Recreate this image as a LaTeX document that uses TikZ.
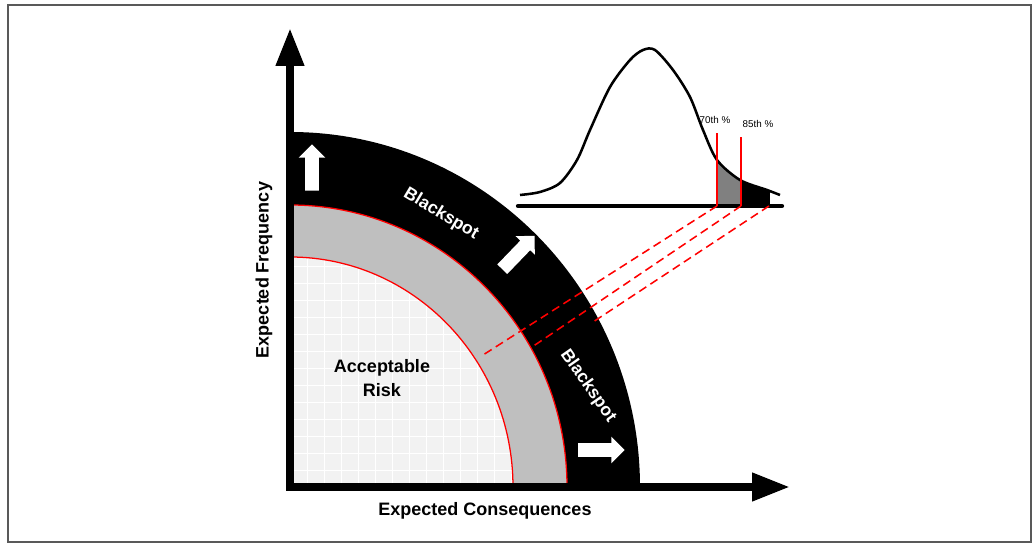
\documentclass[tikz,border=0pt]{standalone}
\usepackage{fontspec}
\setmainfont{Liberation Sans}
\usetikzlibrary{arrows.meta,shapes.arrows}

\begin{document}
\begin{tikzpicture}[x=0.025cm, y=0.025cm,
    axisline/.style = {line width=5.7pt, -{Triangle[length=27pt,width=19pt]}},
    zone/.style = {red, line width=0.9pt},
    link/.style = {red, line width=1.1pt, dash pattern=on 6pt off 3.5pt},
    blockarrow/.style = {single arrow, fill=white, inner sep=4.7pt, minimum height=33pt, single arrow head extend=4.6pt},
    spot/.style = {white, font=\bfseries\fontsize{12.5}{14}\selectfont},
    axislabel/.style = {font=\bfseries\fontsize{12.8}{17}\selectfont},
    pct/.style = {font=\fontsize{7}{9}\selectfont}]
	\useasboundingbox (-290,-57) rectangle (742,487);
	\draw[black!65, line width=1.4pt] (-282,-55) rectangle (741,482);
	% risk zones
	\fill[black] (0,0) -- (0,355) arc[start angle=90, end angle=0, x radius=350, y radius=355] -- cycle;
	\fill[gray!50] (0,0) -- (0,282) arc[start angle=90, end angle=0, x radius=277, y radius=282] -- cycle;
	\begin{scope}
		\clip (0,0) -- (0,230) arc[start angle=90, end angle=0, x radius=223, y radius=230] -- cycle;
		\fill[black!5] (0,0) rectangle (235,235);
		\draw[white, line width=0.4pt, step=17] (0,0) grid (235,235);
	\end{scope}
	\draw[zone] (0,282) arc[start angle=90, end angle=0, x radius=277, y radius=282];
	\draw[zone] (0,230) arc[start angle=90, end angle=0, x radius=223, y radius=230];
	% distribution
	\begin{scope}
		\clip plot[smooth] coordinates {(230,292) (250,295) (270,304) (287,327) (300,357) (320,400) (340,427) (353,437) (365,437) (383,417) (400,390) (413,357) (427,327) (450,307) (477,297) (490,292)} -- (490,281) -- (230,281) -- cycle;
		\fill[gray] (427,281) rectangle (451,450);
		\fill[black] (451,281) rectangle (480,450);
	\end{scope}
	\draw[line width=1.8pt] plot[smooth] coordinates {(230,292) (250,295) (270,304) (287,327) (300,357) (320,400) (340,427) (353,437) (365,437) (383,417) (400,390) (413,357) (427,327) (450,307) (477,297) (490,292)};
	\draw[line width=3pt, line cap=round] (228,281) -- (492,281);
	\coordinate (b70) at (427,281);
	\coordinate (b85) at (451,281);
	\coordinate (btail) at (479,281);
	\node[pct] (t70) at (425,367) {70th \%};
	\node[pct] (t85) at (468,363) {85th \%};
	\draw[red, line width=1pt] (b70) -- (427,354);
	\draw[red, line width=1pt] (b85) -- (451,350);
	% links to the zones
	\coordinate (e70) at (193,132);
	\coordinate (e85) at (242,140);
	\coordinate (etail) at (303,165);
	\draw[link] (b70) -- (e70);
	\draw[link] (b85) -- (e85);
	\draw[link] (btail) -- (etail);
	% arrows and labels
	\node[blockarrow, rotate=90] (up) at (22,316) {};
	\node[blockarrow, rotate=46] (diag) at (226,232) {};
	\node[blockarrow] (right) at (308,37) {};
	\node[spot, rotate=-31] (spot1) at (151,273) {Blackspot};
	\node[spot, rotate=-55] (spot2) at (298,101) {Blackspot};
	\node[axislabel, align=center] (risk) at (92,109) {Acceptable\\Risk};
	\node[axislabel, rotate=90] (freq) at (-26,217) {Expected Frequency};
	\node[axislabel] (cons) at (195,-24) {Expected Consequences};
	% axes
	\draw[axisline] (0,-4) -- (0,459);
	\draw[axisline] (-4,0) -- (500,0);
\end{tikzpicture}
\end{document}
